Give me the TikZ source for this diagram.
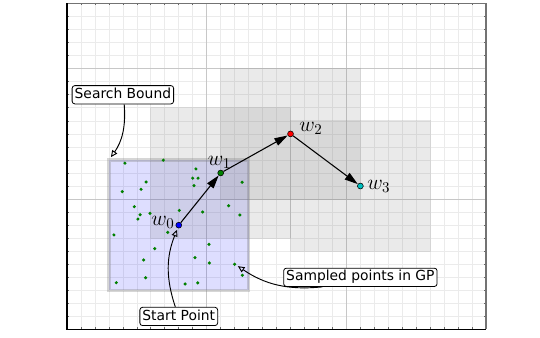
\documentclass[tikz,border=0pt]{standalone}
\usepackage{fix-cm}
\usepackage{fontspec}
\setsansfont{DejaVu Sans}
\usetikzlibrary{arrows.meta,calc}
\definecolor{ptgreen}{RGB}{0,128,0}
\definecolor{ptcyan}{RGB}{0,191,191}
\newcommand{\notefont}{\sffamily\fontsize{10.4}{12}\selectfont}
\newcommand{\wfont}{\fontsize{16}{19}\selectfont}

\begin{document}
\begin{tikzpicture}[
    x=104.78pt, y=97.8pt,
    >={Triangle[length=10pt,width=6pt]},
    minor/.style={black!8, line width=0.5pt},
    major/.style={black!22, line width=0.7pt},
    tick/.style={black!60, line width=0.5pt},
    cell/.style={fill=gray, fill opacity=0.17, draw=gray, draw opacity=0.2, line width=0.7pt},
    bound/.style={fill=blue, fill opacity=0.13, draw=gray, draw opacity=0.32, line width=2.6pt},
    smp/.style={circle, fill=ptgreen, inner sep=0pt, minimum size=2.6pt},
    waypt/.style={circle, draw=black, line width=0.4pt, inner sep=0pt, minimum size=4.4pt},
    wlbl/.style={inner sep=0pt, font=\wfont},
    note/.style={draw, rounded corners=2pt, fill=white, line width=0.6pt, font=\notefont,
      inner xsep=1.9pt, inner ysep=1.8pt, text height=7.8pt, text depth=2.3pt},
    route/.style={->, line width=0.8pt},
    hint/.style={-{Triangle[open,length=5pt,width=4.5pt]}, line width=0.7pt, shorten >=1.3pt},
  ]
  \useasboundingbox (-0.4796,-0.0652) rectangle (3.3858,2.5268);

  % grid and ticks
  \foreach \i in {1,...,29} {
    \draw[minor] (\i/10,0) -- (\i/10,2.5);
    \draw[tick] (\i/10,0) -- ++(0,1.5pt) (\i/10,2.5) -- ++(0,-1.5pt);
  }
  \foreach \j in {1,...,24} {
    \draw[minor] (0,\j/10) -- (3,\j/10);
    \draw[tick] (0,\j/10) -- ++(1.5pt,0) (3,\j/10) -- ++(-1.5pt,0);
  }
  \foreach \i in {1,2} {
    \draw[major] (\i,0) -- (\i,2.5);
    \draw[major] (0,\i) -- (3,\i);
  }
  \draw[black!55, line width=1.2pt] (0,2.5) -- (3,2.5) -- (3,0);
  \draw[black, line width=1pt] (0,2.5) -- (0,0) -- (3,0);

  % search bound and cells
  \draw[bound] (0.3,0.3) rectangle (1.3,1.3);
  \foreach \cx/\cy in {1.1/1.2, 1.6/1.5, 2.1/1.1}
    \draw[cell] (\cx-0.5,\cy-0.5) rectangle ++(1,1);

  % sampled points
  \foreach \x/\y [count=\k] in {0.415/1.275, 0.689/1.298, 0.923/1.231, 0.900/1.160,
      0.938/1.160, 0.909/1.103, 0.566/1.131, 0.530/1.075, 0.396/1.057, 1.253/1.129,
      1.157/0.949, 1.238/0.878, 0.971/0.901, 0.804/0.913, 0.482/0.942, 0.523/0.880,
      0.508/0.847, 0.594/0.891, 0.721/0.745, 0.336/0.725, 1.016/0.653, 0.628/0.620,
      0.916/0.551, 0.549/0.533, 1.019/0.510, 1.2/0.5, 1.255/0.416, 0.563/0.397,
      0.353/0.359, 0.845/0.349, 0.936/0.357}
    \node[smp] (s\k) at (\x,\y) {};

  \node[waypt, fill=blue] (w0) at (0.8,0.8) {};
  \node[waypt, fill=ptgreen] (w1) at (1.1,1.2) {};
  \node[waypt, fill=red] (w2) at (1.6,1.5) {};
  \node[waypt, fill=ptcyan] (w3) at (2.1,1.1) {};

  \draw[route] (w0) -- (w1);
  \draw[route] (w1) -- (w2);
  \draw[route] (w2) -- (w3);

  \node[wlbl, anchor=base east] (l0) at ($(w0)+(-3pt,0)$) {$w_0$};
  \node[wlbl, anchor=base west] (l1) at ($(w1)+(-9.75pt,6pt)$) {$w_1$};
  \node[wlbl, anchor=base west] (l2) at ($(w2)+(6.5pt,2pt)$) {$w_2$};
  \node[wlbl, anchor=base west] (l3) at ($(w3)+(5pt,-2.5pt)$) {$w_3$};

  % annotations
  \node[note] (sb) at (0.4,1.8) {Search Bound};
  \node[note] (sp) at (0.8,0.1) {Start Point};
  \node[note] (gp) at (2.1,0.4) {Sampled points in GP};
  \coordinate (corner) at (0.3,1.3);

  \draw[hint, shorten >=2.6pt] (sb) to[bend left=20] (corner);
  \draw[hint] (sp) to[bend left=20] (w0);
  \draw[hint] (gp) to[bend left=20] (s26);
\end{tikzpicture}
\end{document}
